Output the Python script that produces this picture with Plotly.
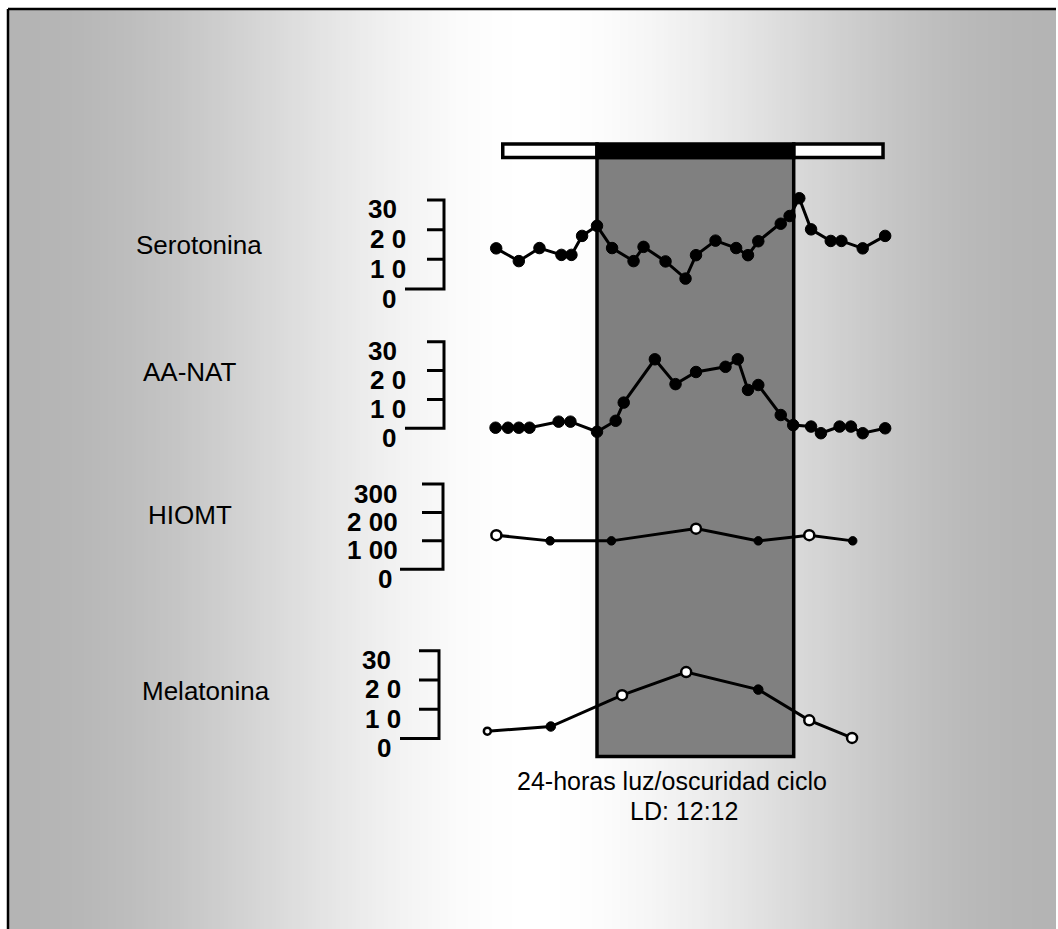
import plotly.graph_objects as go

W, H = 1058, 929
FONT = "Liberation Sans, Arial, sans-serif"

# ---------------------------------------------------------------------------
# Data: time in hours relative to lights-off (dark phase 0-12 h)
# ---------------------------------------------------------------------------
LIGHT_BAR = [-5.75, 17.45]
DARK_PHASE = [0, 12]

ser_t = [-6.15, -4.77, -3.51, -2.17, -1.56, -0.91, 0.0, 0.92, 2.23, 2.84, 4.18, 5.40, 6.04,
         7.23, 8.49, 9.21, 9.84, 11.21, 11.75, 12.34, 13.06, 14.26, 14.91, 16.21, 17.58]
ser_v = [13.7, 9.4, 13.8, 11.5, 11.5, 17.9, 21.3, 13.8, 9.4, 14.2, 9.3, 3.5, 11.4,
         16.3, 13.8, 11.4, 16.1, 22.0, 24.6, 30.6, 20.1, 16.2, 16.2, 13.7, 17.9]

aa_t = [-6.19, -5.43, -4.77, -4.12, -2.34, -1.62, 0.0, 1.14, 1.63, 3.53, 4.79, 6.04,
        7.84, 8.59, 9.21, 9.84, 11.21, 11.97, 13.06, 13.66, 14.80, 15.49, 16.21, 17.58]
aa_v = [0.2, 0.2, 0.2, 0.2, 2.3, 2.3, -1.2, 2.6, 8.9, 23.9, 15.3, 19.5,
        21.3, 23.9, 13.3, 15.0, 4.6, 1.1, 0.6, -1.7, 0.6, 0.6, -1.7, 0.0]

hi_t = [-6.14, -2.86, 0.88, 6.04, 9.84, 12.95, 15.60]
hi_v = [120, 100, 100, 143, 100, 120, 100]
hi_open = [True, False, False, True, False, True, False]

mel_t = [-6.69, -2.82, 1.53, 5.44, 9.84, 12.95, 15.56]
mel_v = [2.5, 4.1, 14.8, 22.7, 16.7, 6.2, 0.2]
mel_open = [True, False, True, True, False, True, True]

ticks_30 = [30, 20, 10, 0]
ticklabels_30 = ["30", "2 0", "1 0", "0"]
ticks_300 = [300, 200, 100, 0]
ticklabels_300 = ["300", "2 00", "1 00", "0"]

# ---------------------------------------------------------------------------
# Layout helpers (pixel positions -> paper fractions)
# ---------------------------------------------------------------------------
DARK_START_PX = 597.0
PX_PER_HOUR = 196.7 / 12


def px(x):
    return x / W


def py(y):
    return 1 - y / H


x_range = [-DARK_START_PX / PX_PER_HOUR, (W - DARK_START_PX) / PX_PER_HOUR]

panels = [
    dict(name="Serotonina", t=ser_t, v=ser_v, open=None, fill_size=11.5, open_size=10,
         zero_px=289.0, top_px=200.0, top_val=30, rng=[-12, 42],
         ticks=ticks_30, labels=ticklabels_30, label_cx=[382, 388, 388, 389],
         bx=(444, 427, 405), name_xy=(134, 245)),
    dict(name="AA-NAT", t=aa_t, v=aa_v, open=None, fill_size=11.5, open_size=10,
         zero_px=428.3, top_px=341.7, top_val=30, rng=[-12, 42],
         ticks=ticks_30, labels=ticklabels_30, label_cx=[382, 388, 388, 389],
         bx=(444, 427, 405), name_xy=(141, 372)),
    dict(name="HIOMT", t=hi_t, v=hi_v, open=hi_open, fill_size=8.5, open_size=10,
         zero_px=569.3, top_px=484.0, top_val=300, rng=[-120, 420],
         ticks=ticks_300, labels=ticklabels_300, label_cx=[375, 372.5, 372.5, 385],
         bx=(443, 422, 400), name_xy=(146, 515)),
    dict(name="Melatonina", t=mel_t, v=mel_v, open=mel_open, fill_size=9.5, open_size=10,
         zero_px=738.5, top_px=650.7, top_val=30, rng=[-12, 42],
         ticks=ticks_30, labels=ticklabels_30, label_cx=[376.5, 383, 383, 384],
         bx=(439, 419, 400), name_xy=(140, 691)),
]

fig = go.Figure()
shapes = []
annotations = []

# Background: white page, framed area with a horizontal grey-white-grey gradient
FRAME_L, FRAME_T, FRAME_R = 8, 9, 1056
step = 4
x = FRAME_L
while x < FRAME_R:
    xc = x + step / 2
    s = 1 - abs(xc - 535) / 520
    s = max(0.0, min(1.0, s))
    g = int(round(180 + 75 * (3 * s * s - 2 * s ** 3)))
    shapes.append(dict(type="rect", xref="paper", yref="paper", layer="below",
                       x0=px(x), x1=px(min(x + step + 0.6, FRAME_R)),
                       y0=0, y1=py(FRAME_T),
                       fillcolor=f"rgb({g},{g},{g})", line=dict(width=0)))
    x += step

shapes.append(dict(type="line", xref="paper", yref="paper", layer="below",
                   x0=px(FRAME_L), x1=px(FRAME_L), y0=py(FRAME_T), y1=0,
                   line=dict(color="black", width=2.5)))
shapes.append(dict(type="line", xref="paper", yref="paper", layer="below",
                   x0=px(FRAME_L), x1=px(FRAME_R), y0=py(FRAME_T), y1=py(FRAME_T),
                   line=dict(color="black", width=2.5)))

# Dark phase column
shapes.append(dict(type="rect", xref="x", yref="paper", layer="below",
                   x0=DARK_PHASE[0], x1=DARK_PHASE[1], y0=py(756.5), y1=py(157.5),
                   fillcolor="#808080", line=dict(color="black", width=3.5)))

# Light/dark bar
BAR_Y0, BAR_Y1 = py(157.5), py(144)
shapes.append(dict(type="rect", xref="x", yref="paper", layer="below",
                   x0=LIGHT_BAR[0], x1=DARK_PHASE[0], y0=BAR_Y0, y1=BAR_Y1,
                   fillcolor="white", line=dict(color="black", width=3.5)))
shapes.append(dict(type="rect", xref="x", yref="paper", layer="below",
                   x0=DARK_PHASE[1], x1=LIGHT_BAR[1], y0=BAR_Y0, y1=BAR_Y1,
                   fillcolor="white", line=dict(color="black", width=3.5)))
shapes.append(dict(type="rect", xref="x", yref="paper", layer="below",
                   x0=DARK_PHASE[0], x1=DARK_PHASE[1], y0=BAR_Y0, y1=BAR_Y1,
                   fillcolor="black", line=dict(color="black", width=3.5)))

layout_axes = {}
for i, p in enumerate(panels):
    ax_id = "y" if i == 0 else f"y{i + 1}"
    ax_key = "yaxis" if i == 0 else f"yaxis{i + 1}"
    ppu = (p["zero_px"] - p["top_px"]) / p["top_val"]
    lo, hi = p["rng"]
    d0 = py(p["zero_px"] - lo * ppu)
    d1 = py(p["zero_px"] - hi * ppu)
    layout_axes[ax_key] = dict(domain=[d0, d1], range=[lo, hi], visible=False,
                               fixedrange=True, anchor="x")

    # connecting line
    fig.add_trace(go.Scatter(
        x=p["t"], y=p["v"], xaxis="x", yaxis=ax_id, mode="lines",
        line=dict(color="#000000", width=3),
        hoverinfo="skip", showlegend=False, cliponaxis=False))

    # filled and open sample markers
    flags = p["open"] if p["open"] is not None else [False] * len(p["t"])
    filled_t = [t for t, o in zip(p["t"], flags) if not o]
    filled_v = [v for v, o in zip(p["v"], flags) if not o]
    open_t = [t for t, o in zip(p["t"], flags) if o]
    open_v = [v for v, o in zip(p["v"], flags) if o]
    if filled_t:
        fig.add_trace(go.Scatter(
            x=filled_t, y=filled_v, xaxis="x", yaxis=ax_id, mode="markers",
            marker=dict(color="#000000", size=p["fill_size"], opacity=1,
                        line=dict(color="#000000", width=1)),
            hoverinfo="skip", showlegend=False, cliponaxis=False))
    if open_t:
        sizes = [p["open_size"]] * len(open_t)
        if p["name"] == "Melatonina":
            sizes[0] = 7
        fig.add_trace(go.Scatter(
            x=open_t, y=open_v, xaxis="x", yaxis=ax_id, mode="markers",
            marker=dict(color="#ffffff", size=sizes, opacity=1,
                        line=dict(color="#000000", width=2.5)),
            hoverinfo="skip", showlegend=False, cliponaxis=False))

    # bracket-style scale
    xv, xt, xz = p["bx"]
    top = p["ticks"][0]
    path = f"M {px(xt)},{top} L {px(xv)},{top} L {px(xv)},0 L {px(xz)},0"
    for tv in p["ticks"][1:-1]:
        path += f" M {px(xt)},{tv} L {px(xv)},{tv}"
    shapes.append(dict(type="path", xref="paper", yref=ax_id, path=path,
                       line=dict(color="black", width=3)))

    for tv, lab, cx in zip(p["ticks"], p["labels"], p["label_cx"]):
        annotations.append(dict(text=f"<b>{lab}</b>", xref="paper", yref=ax_id,
                                x=px(cx), y=tv, yshift=-9.5, showarrow=False,
                                xanchor="center", yanchor="middle", height=26,
                                font=dict(family=FONT, size=26, color="black")))

    nx, ny = p["name_xy"]
    annotations.append(dict(text=p["name"], xref="paper", yref="paper",
                            x=px(nx), y=py(ny), showarrow=False,
                            xanchor="left", yanchor="middle",
                            font=dict(family=FONT, size=26, color="black")))

annotations.append(dict(text="24-horas luz/oscuridad ciclo", xref="paper", yref="paper",
                        x=px(672), y=py(780.5), showarrow=False,
                        xanchor="center", yanchor="middle",
                        font=dict(family=FONT, size=25, color="black")))
annotations.append(dict(text="LD: 12:12", xref="paper", yref="paper",
                        x=px(683.5), y=py(810.5), showarrow=False,
                        xanchor="center", yanchor="middle",
                        font=dict(family=FONT, size=25, color="black")))

fig.update_layout(
    width=W, height=H, autosize=False,
    margin=dict(l=0, r=0, t=0, b=0, pad=0),
    paper_bgcolor="white", plot_bgcolor="rgba(0,0,0,0)",
    xaxis=dict(domain=[0, 1], range=x_range, visible=False, fixedrange=True),
    shapes=shapes, annotations=annotations, showlegend=False,
    **layout_axes,
)

fig.write_html("out.html", config={"displayModeBar": False})
